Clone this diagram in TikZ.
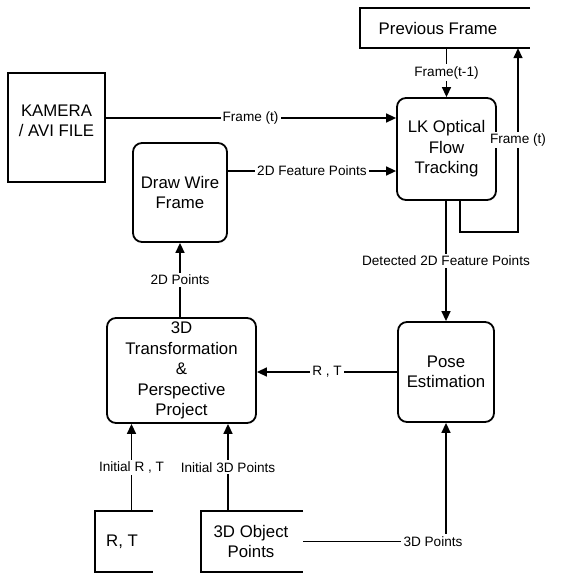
\documentclass[tikz,border=0pt]{standalone}
\usepackage{fontspec}
\setmainfont{Liberation Sans}
\usetikzlibrary{arrows.meta}
\tikzset{
  boxfont/.style={font=\fontsize{16.8}{20.5}\selectfont, align=center},
  rbox/.style={draw, line width=1.8pt, rounded corners=9pt, boxfont, inner sep=0pt},
  plainbox/.style={draw, line width=1.8pt, boxfont, inner sep=0pt},
  openbox/.style={inner sep=0pt},
  openline/.style={line width=1.8pt},
  arr/.style={line width=1.5pt, -{Triangle[length=10pt,width=9pt]}},
  conn/.style={line width=1.5pt},
  lbl/.style={fill=white, font=\fontsize{13.6}{16}\selectfont, inner sep=2pt},
  txt/.style={boxfont, inner sep=0pt}
}
\begin{document}
\begin{tikzpicture}[x=1pt,y=-1pt]
\useasboundingbox (0,0) rectangle (560,575);
% nodes
\node[openbox, minimum width=170pt, minimum height=40pt] (prev) at (445,28) {};
\node[txt] (prevtxt) at (438,28) {Previous Frame};
\draw[openline] (prev.north east) -- (prev.north west) -- (prev.south west) -- (prev.south east);

\node[plainbox, minimum width=97pt, minimum height=109pt] (cam) at (56.5,127.5) {};
\node[txt] (camtxt) at (56.5,121) {KAMERA\\/ AVI FILE};

\node[rbox, minimum width=99pt, minimum height=102pt] (lk) at (446.5,149) {LK Optical\\Flow\\Tracking};
\node[rbox, minimum width=94pt, minimum height=99pt] (draw) at (180,192.5) {Draw Wire\\Frame};
\node[rbox, minimum width=149pt, minimum height=105pt] (tr) at (181.5,370.5) {3D\\Transformation\\\&\\Perspective\\Project};
\node[rbox, minimum width=96pt, minimum height=100pt] (pose) at (446,372) {Pose\\Estimation};

\node[openbox, minimum width=58pt, minimum height=61pt] (rt) at (124,541.5) {};
\node[txt] (rttxt) at (122,541.5) {R, T};
\draw[openline] (rt.north east) -- (rt.north west) -- (rt.south west) -- (rt.south east);

\node[openbox, minimum width=102pt, minimum height=61pt] (obj) at (252,541.5) {};
\node[txt] (objtxt) at (251,541.5) {3D Object\\Points};
\draw[openline] (obj.north east) -- (obj.north west) -- (obj.south west) -- (obj.south east);

% connectors
\coordinate (camout) at (105,118);
\draw[arr] (camout) -- (camout -| lk.west) node[midway, lbl] {Frame (t)};

\draw[arr] (prev.south -| lk.north) -- (lk.north) node[midway, lbl] {Frame(t-1)};

\coordinate (loopc) at (518,232);
\draw[arr] ([xshift=13.5pt]lk.south) |- (loopc) -- (loopc |- prev.south) node[midway, lbl] {Frame (t)};

\coordinate (fpy) at (0,171);
\draw[arr] (draw.east |- fpy) -- (lk.west |- fpy) node[midway, lbl] {2D Feature Points};

\draw[arr] (lk.south -| pose.north) -- (pose.north) node[midway, lbl] {Detected 2D Feature Points};

\draw[arr] (pose.west) -- (pose.west -| tr.east) node[midway, lbl] {R , T};

\draw[arr] (tr.north -| draw.south) -- (draw.south) node[midway, lbl] {2D Points};

\draw[arr] ([xshift=7.5pt]rt.north) -- ([xshift=7.5pt]rt.north |- tr.south) node[midway, lbl] {Initial R , T};
\draw[arr] ([xshift=-24pt]obj.north) -- ([xshift=-24pt]obj.north |- tr.south) node[midway, lbl] {Initial 3D Points};

\draw[arr] (obj.east) -| (pose.south);
\node[lbl, inner sep=3pt] (ptslbl) at (433,542) {3D Points};
\end{tikzpicture}
\end{document}
